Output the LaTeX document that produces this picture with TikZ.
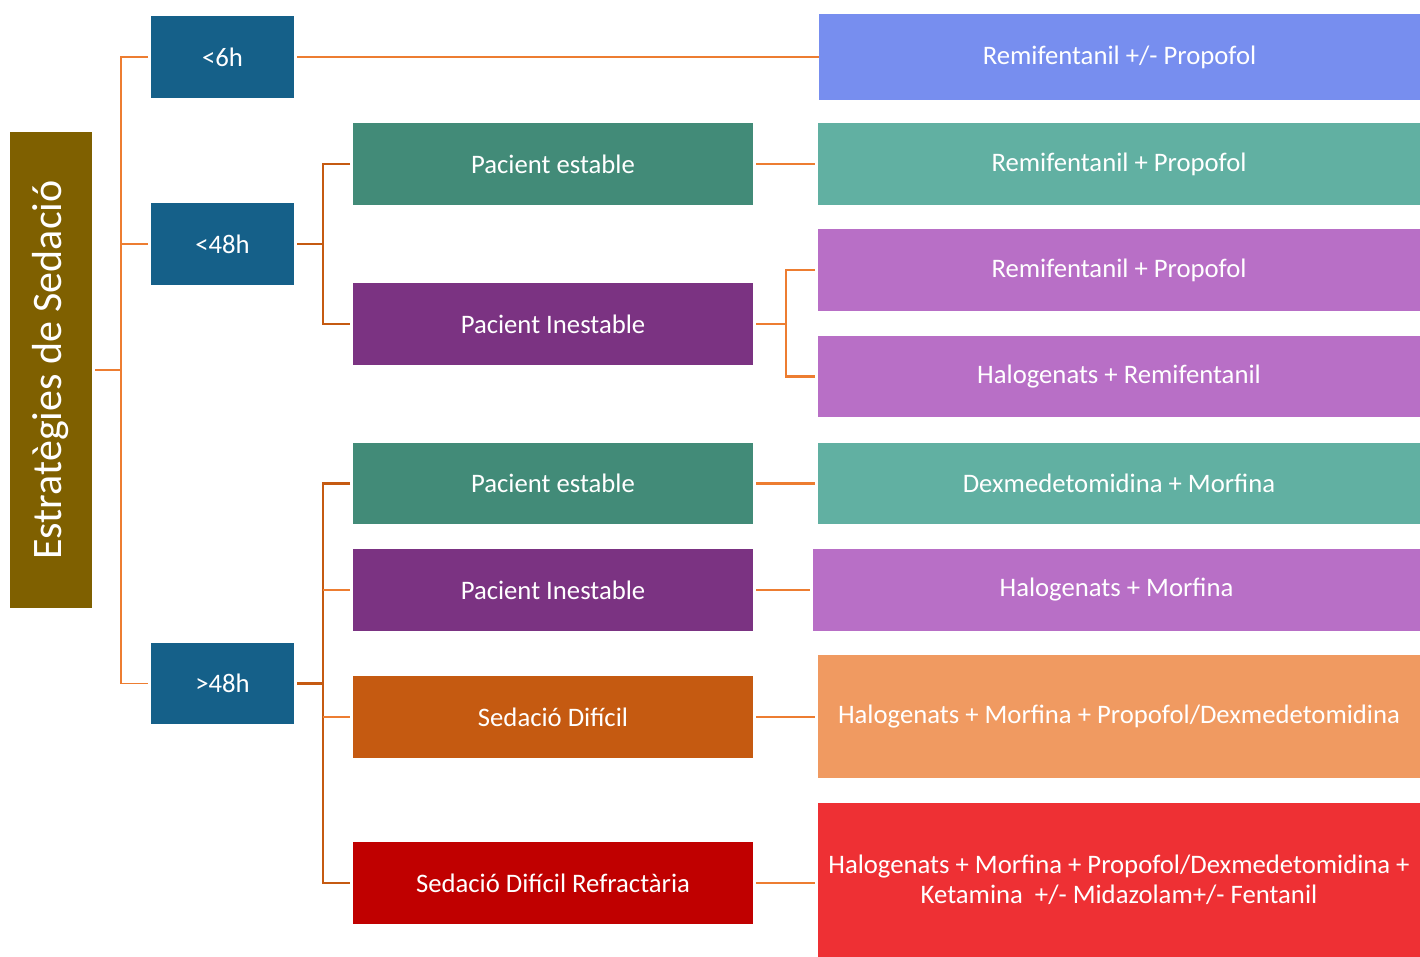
\documentclass[tikz,border=0pt]{standalone}
\usepackage{fontspec}
\setmainfont{Carlito}
\definecolor{cOlive}{HTML}{7F6000}
\definecolor{cBlue}{HTML}{156089}
\definecolor{cGreen}{HTML}{428B78}
\definecolor{cPurple}{HTML}{7B3382}
\definecolor{cOrange}{HTML}{C55A11}
\definecolor{cRed}{HTML}{C00000}
\definecolor{cPeri}{HTML}{778EEF}
\definecolor{cTeal}{HTML}{61B0A2}
\definecolor{cLilac}{HTML}{B86FC6}
\definecolor{cPeach}{HTML}{F09A61}
\definecolor{cBright}{HTML}{EE3034}
\definecolor{cLine}{HTML}{ED7D31}
\definecolor{cLineDark}{HTML}{C55A11}
\tikzset{
  box/.style={rectangle, inner sep=0pt, outer sep=0pt, text=white, align=center,
    font=\fontsize{26.7}{29.5}\selectfont},
  thinlink/.style={draw=cLine, line width=1.4pt},
  midlink/.style={draw=cLine, line width=2.4pt},
  thicklink/.style={draw=cLineDark, line width=2.8pt},
}
\begin{document}
\begin{tikzpicture}[x=1pt, y=-1pt]
\useasboundingbox (0,0) rectangle (1420,957);

% root
\node[box, fill=cOlive, rotate=90, minimum width=476, minimum height=82,
  font=\fontsize{42}{48}\selectfont] (root) at (51,370) {Estratègies de Sedació};

% time ranges
\node[box, fill=cBlue, minimum width=143, minimum height=82] (t6) at (222.5,57) {<6h};
\node[box, fill=cBlue, minimum width=143, minimum height=82] (t48) at (222.5,244) {<48h};
\node[box, fill=cBlue, minimum width=143, minimum height=81] (tg48) at (222.5,683.5) {>48h};

% patient states
\node[box, fill=cGreen, minimum width=400, minimum height=82] (pe1) at (553,164) {Pacient estable};
\node[box, fill=cPurple, minimum width=400, minimum height=82] (pi1) at (553,324) {Pacient Inestable};
\node[box, fill=cGreen, minimum width=400, minimum height=81] (pe2) at (553,483.5) {Pacient estable};
\node[box, fill=cPurple, minimum width=400, minimum height=82] (pi2) at (553,590) {Pacient Inestable};
\node[box, fill=cOrange, minimum width=400, minimum height=82] (sd) at (553,717) {Sedació Difícil};
\node[box, fill=cRed, minimum width=400, minimum height=82] (sdr) at (553,883) {Sedació Difícil Refractària};

% treatments
\node[box, fill=cPeri, minimum width=601, minimum height=86] (r1) at (1119.5,57) {Remifentanil +/- Propofol};
\node[box, fill=cTeal, minimum width=602, minimum height=82] (r2) at (1119,164) {Remifentanil + Propofol};
\node[box, fill=cLilac, minimum width=602, minimum height=82] (r3) at (1119,270) {Remifentanil + Propofol};
\node[box, fill=cLilac, minimum width=602, minimum height=81] (r4) at (1119,376.5) {Halogenats + Remifentanil};
\node[box, fill=cTeal, minimum width=602, minimum height=81] (r5) at (1119,483.5) {Dexmedetomidina + Morfina};
\node[box, fill=cLilac, minimum width=607, minimum height=82] (r6) at (1116.5,590) {Halogenats + Morfina};
\node[box, fill=cPeach, minimum width=602, minimum height=123] (r7) at (1119,716.5) {Halogenats + Morfina + Propofol/Dexmedetomidina};
\node[box, fill=cBright, minimum width=602, minimum height=154] (r8) at (1119,880)
  {Halogenats + Morfina + Propofol/Dexmedetomidina +\\Ketamina\ \ +/- Midazolam+/- Fentanil};

% root bracket
\coordinate (rb) at (121,370);
\draw[thinlink] ([xshift=3pt]root.south) -- (rb);
\draw[thinlink] (t6.west) ++(-3,0) -| (rb) |- ([xshift=-3pt]tg48.west);
\draw[thinlink] (rb |- t48.west) -- ([xshift=-3pt]t48.west);

% <6h
\draw[thinlink] ([xshift=3pt]t6.east) -- (r1.west);

% <48h bracket
\coordinate (b48) at (323,244);
\draw[thicklink] ([xshift=3pt]t48.east) -- (b48);
\draw[thicklink] ([xshift=-3pt]pe1.west) -| (b48) |- ([xshift=-3pt]pi1.west);

% >48h bracket
\coordinate (bg48) at (323,683.5);
\draw[thicklink] ([xshift=3pt]tg48.east) -- (bg48);
\draw[thicklink] ([xshift=-3pt]pe2.west) -| (bg48) |- ([xshift=-3pt]sdr.west);
\draw[thinlink] (bg48 |- pi2.west) -- ([xshift=-3pt]pi2.west);
\draw[thinlink] (bg48 |- sd.west) -- ([xshift=-3pt]sd.west);

% patient states to treatments
\draw[midlink] ([xshift=3pt]pe1.east) -- ([xshift=-3pt]r2.west);
\coordinate (bi1) at (786,324);
\draw[midlink] ([xshift=3pt]pi1.east) -- (bi1);
\draw[midlink] ([xshift=-3pt]r3.west) -| (bi1) |- ([xshift=-3pt]r4.west);
\draw[midlink] ([xshift=3pt]pe2.east) -- ([xshift=-3pt]r5.west);
\draw[midlink] ([xshift=3pt]pi2.east) -- ([xshift=-3pt]r6.west);
\draw[midlink] ([xshift=3pt]sd.east) -- ([xshift=-3pt]sd.east -| r7.west);
\draw[midlink] ([xshift=3pt]sdr.east) -- ([xshift=-3pt]sdr.east -| r8.west);
\end{tikzpicture}
\end{document}
